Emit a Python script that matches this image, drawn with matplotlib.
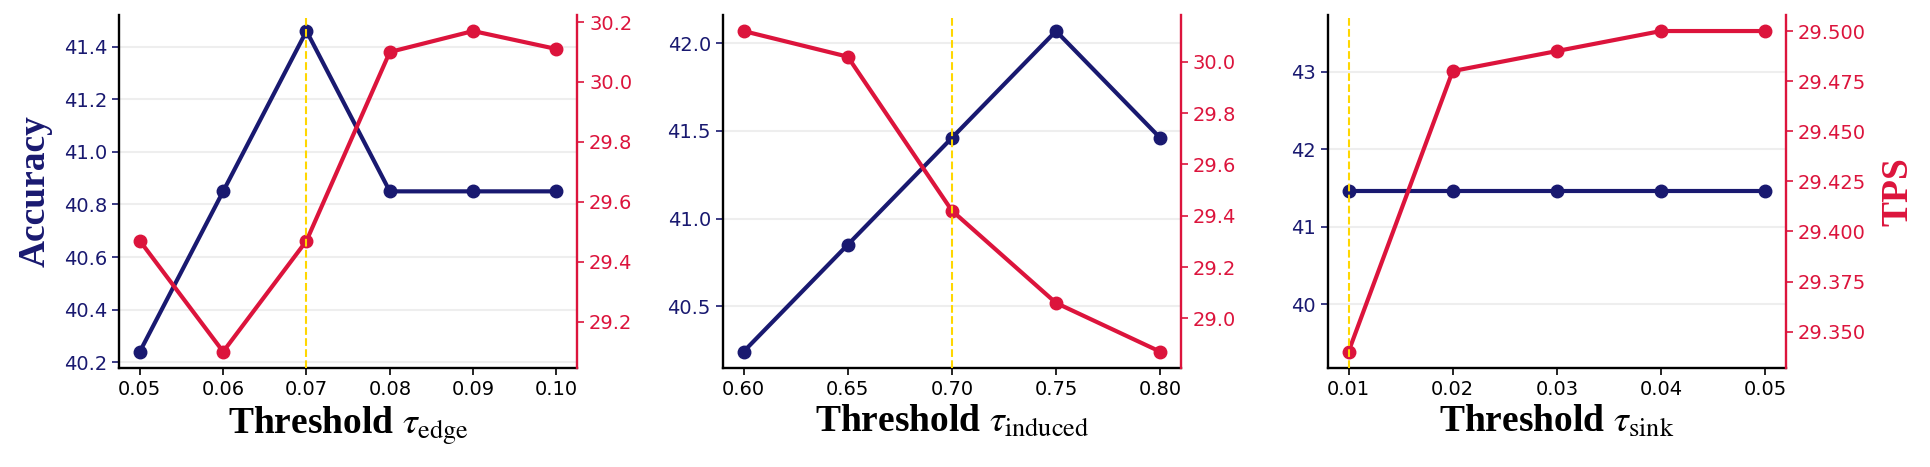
import matplotlib
matplotlib.use("Agg")
import matplotlib.pyplot as plt
from matplotlib.ticker import MultipleLocator

plt.rcParams['font.family'] = ['DejaVu Sans']
plt.rcParams['mathtext.fontset'] = 'stix'

# ---- data ----
edge_x = [0.05, 0.06, 0.07, 0.08, 0.09, 0.10]
edge_acc = [40.24, 40.85, 41.46, 40.85, 40.85, 40.85]
edge_tps = [29.47, 29.10, 29.47, 30.10, 30.17, 30.11]
edge_sel = 0.07

induced_x = [0.60, 0.65, 0.70, 0.75, 0.80]
induced_acc = [40.24, 40.85, 41.46, 42.07, 41.46]
induced_tps = [30.12, 30.02, 29.42, 29.06, 28.87]
induced_sel = 0.70

sink_x = [0.01, 0.02, 0.03, 0.04, 0.05]
sink_acc = [41.46, 41.46, 41.46, 41.46, 41.46]
sink_tps = [29.34, 29.48, 29.49, 29.50, 29.50]
sink_sel = 0.01

xlabels = [r"Threshold $\tau_{\mathrm{edge}}$",
           r"Threshold $\tau_{\mathrm{induced}}$",
           r"Threshold $\tau_{\mathrm{sink}}$"]
xtick_lists = [["0.05", "0.06", "0.07", "0.08", "0.09", "0.10"],
               ["0.60", "0.65", "0.70", "0.75", "0.80"],
               ["0.01", "0.02", "0.03", "0.04", "0.05"]]

NAVY = "#191970"
RED = "#DC143C"
GOLD = "#FFD700"

W, H = 1930, 467
fig = plt.figure(figsize=(W / 100, H / 100), dpi=100)

lefts = [119, 722.7, 1327.7]
aw = 458.3
bottom = 1 - 367.7 / H
height = (367.7 - 15) / H

panels = [(edge_x, edge_acc, edge_tps, edge_sel),
          (induced_x, induced_acc, induced_tps, induced_sel),
          (sink_x, sink_acc, sink_tps, sink_sel)]
left_steps = [0.2, 0.5, 1.0]
right_steps = [0.2, 0.2, 0.025]

label_font = dict(family=['Liberation Serif'], weight='bold', size=27)

for i, (xs, acc, tps, sel) in enumerate(panels):
    ax = fig.add_axes([lefts[i] / W, bottom, aw / W, height])
    ax2 = ax.twinx()
    ax.plot(xs, acc, color=NAVY, lw=3.0, marker='o', ms=9, zorder=3)
    ax2.plot(xs, tps, color=RED, lw=3.0, marker='o', ms=9, zorder=3)
    ax2.axvline(sel, color=GOLD, ls='--', lw=1.5, zorder=4)

    ax.set_xticks(xs)
    ax.set_xticklabels(xtick_lists[i])
    ax.yaxis.set_major_locator(MultipleLocator(left_steps[i]))
    ax2.yaxis.set_major_locator(MultipleLocator(right_steps[i]))
    if i == 2:
        ax.set_ylim(39.18, 43.73)

    ax.grid(axis='y', color='#eeeeee', lw=1.5, zorder=0)
    ax.set_axisbelow(True)

    for a in (ax, ax2):
        a.spines['top'].set_visible(False)
    ax.spines['right'].set_visible(False)
    ax2.spines['left'].set_visible(False)
    ax2.spines['bottom'].set_visible(False)
    ax.spines['left'].set_linewidth(1.7)
    ax.spines['bottom'].set_linewidth(1.7)
    ax2.spines['right'].set_color(RED)
    ax2.spines['right'].set_linewidth(1.7)

    ax.tick_params(axis='y', colors=NAVY, labelcolor=NAVY, labelsize=14,
                   length=5, width=1.2)
    ax.tick_params(axis='x', labelsize=14, length=5, width=1.2)
    ax2.tick_params(axis='y', colors=RED, labelcolor=RED, labelsize=14,
                    length=5, width=1.2)

    ax.set_xlabel(xlabels[i], labelpad=4, **label_font)
    if i == 0:
        ax.set_ylabel("Accuracy", color=NAVY, labelpad=8, **label_font)
    if i == 2:
        ax2.set_ylabel("TPS", color=RED, labelpad=10, **label_font)

fig.savefig("out.png", dpi=100)
